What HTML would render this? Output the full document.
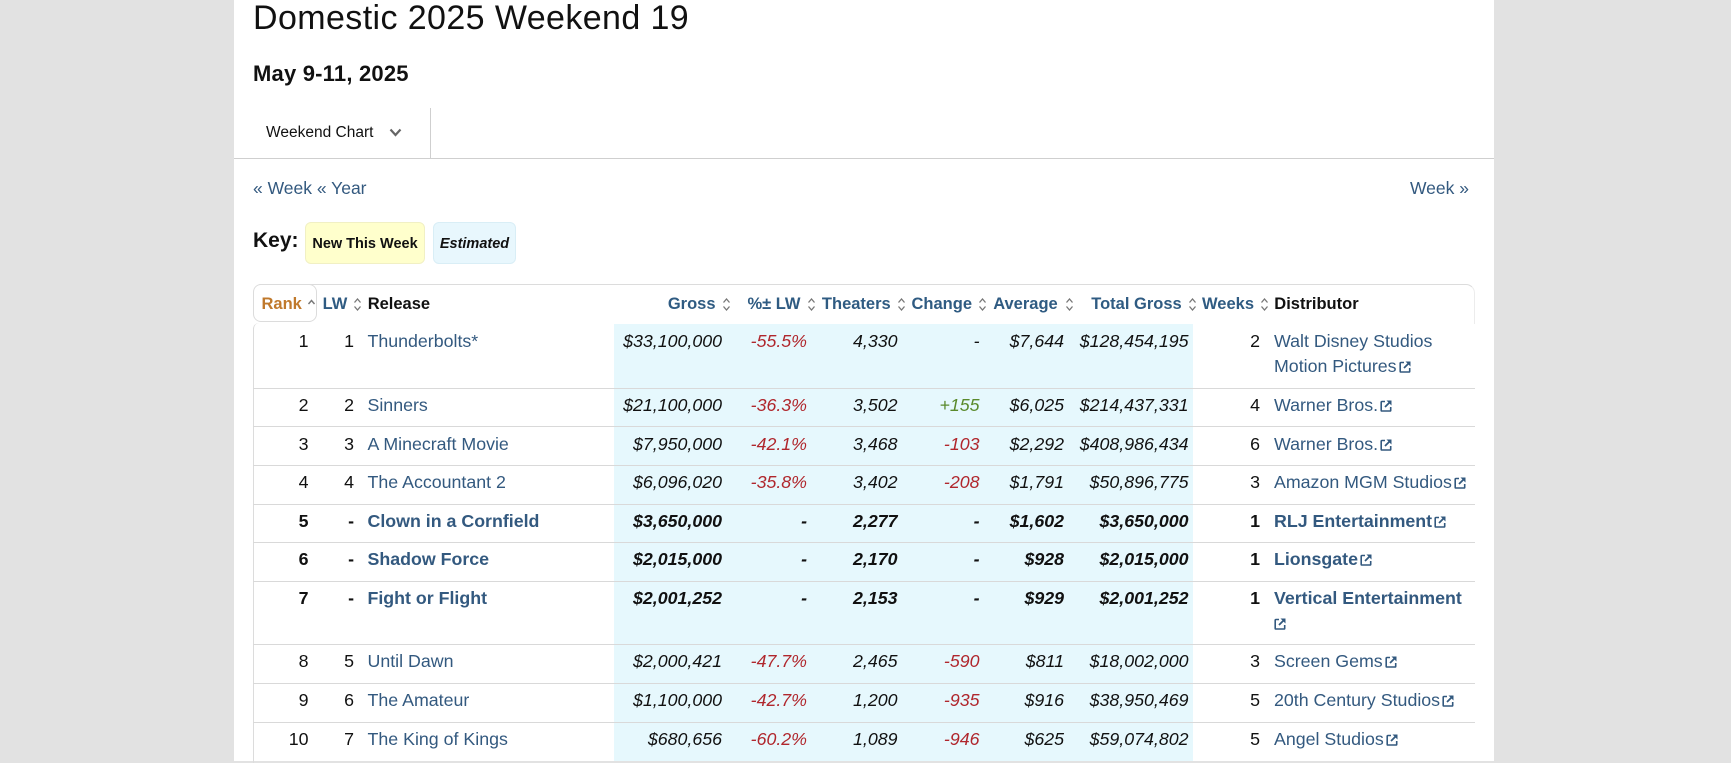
<!DOCTYPE html>
<html><head><meta charset="utf-8"><style>
html,body{margin:0;padding:0}
body{width:1731px;height:761px;overflow:hidden;position:relative;background:#e2e2e2;font-family:"Liberation Sans",Arial,sans-serif;color:#111}
.panel{position:absolute;left:234px;top:0;width:1260px;height:761px;background:#fff}
.a{position:absolute;white-space:nowrap}
.link{color:#33597f}
.title{left:253px;top:1px;font-size:34px;line-height:34px;letter-spacing:0.4px;color:#111}
.date{left:253px;top:63px;font-size:22px;line-height:22px;font-weight:bold;letter-spacing:0.2px}
.tab{left:266px;top:125px;font-size:15.5px;line-height:15.5px;color:#111}
.hl{position:absolute;background:#cfcfcf}
.nav{top:180px;font-size:17.5px;line-height:17.5px}
.key{left:253px;top:230px;font-size:21px;line-height:21px;font-weight:bold}
.kbox{position:absolute;top:221.5px;height:42px;border-radius:6px;box-sizing:border-box;font-size:14.5px;font-weight:bold;line-height:42px;text-align:center}
.blue{position:absolute;left:614px;top:324px;width:579px;height:437px;background:#e6f8fd}
.tbtop{position:absolute;left:253px;top:284px;width:1222px;height:40px;box-sizing:border-box;border-top:1px solid #dcdcdc;border-right:1px solid #ececec;border-top-right-radius:9px;border-top-left-radius:9px}
.rankbox{position:absolute;left:253px;top:284px;width:64px;height:38px;box-sizing:border-box;border:1px solid #dcdcdc;border-radius:8px;background:#fff}
.tbleft{position:absolute;left:253px;top:323px;width:10px;height:440px;box-sizing:border-box;border-left:1px solid #dcdcdc;border-top-left-radius:6px}
.rb{position:absolute;left:253px;width:1222px;height:1px;background:#d9d9d9}
.h{position:absolute;top:294px;font-size:16.5px;line-height:20px;font-weight:bold;color:#2f5b82;white-space:nowrap}
.si{position:absolute;top:296.5px}
.row{position:absolute;left:0;width:1731px;height:40px;font-size:17.8px;line-height:25px}
.row span{position:absolute;top:5px;white-space:nowrap}
.rk{right:1422.5px}
.lw{right:1377px}
.rl{left:367.5px;color:#33597f}
.g{right:1009px}
.p{right:924px}
.th{right:833.5px}
.ch{right:751.5px}
.av{right:667px}
.tg{right:542.5px}
.wk{right:471px}
.ds{left:1274px;color:#33597f}
.i{font-style:italic}
.red{color:#b0272d}
.grn{color:#5a8a2c}
.b{font-weight:bold}
.ext{display:inline-block;vertical-align:-1px;margin-left:2px}
</style></head><body>
<div class="panel"></div>

<div class="a title">Domestic 2025 Weekend 19</div>
<div class="a date">May 9-11, 2025</div>

<div class="a tab">Weekend Chart</div>
<svg class="a" style="left:389px;top:128px" width="13" height="9" viewBox="0 0 13 9"><path d="M1.5 1.5 L6.5 7 L11.5 1.5" fill="none" stroke="#666" stroke-width="2.2"/></svg>
<div class="hl" style="left:430px;top:108px;width:1px;height:50px"></div>
<div class="hl" style="left:234px;top:158px;width:1260px;height:1px"></div>

<div class="a nav link" style="left:253px">« Week « Year</div>
<div class="a nav link" style="right:262px">Week »</div>

<div class="a key">Key:</div>
<div class="kbox" style="left:305px;width:120px;background:#ffffcc;border:1px solid #f1f0c4">New This Week</div>
<div class="kbox" style="left:433px;width:83px;background:#e8f7fd;border:1px solid #d9eef6;font-style:italic">Estimated</div>

<div class="blue"></div>
<div class="tbtop"></div>
<div class="tbleft"></div>
<div class="rankbox"></div>

<!-- header -->
<div class="h" style="left:261.5px;color:#c0792c">Rank</div>
<svg class="si" style="left:307px;top:298px" width="9" height="8" viewBox="0 0 9 8"><path d="M1.5 6 L4.5 2.5 L7.5 6" fill="none" stroke="#777" stroke-width="1.4"/></svg>
<div class="h" style="right:1383.7px">LW</div>
<div class="h" style="left:367.7px;color:#111">Release</div>
<div class="h" style="right:1015.5px">Gross</div>
<div class="h" style="right:930.5px">%± LW</div>
<div class="h" style="right:840.3px">Theaters</div>
<div class="h" style="right:759px">Change</div>
<div class="h" style="right:673.3px">Average</div>
<div class="h" style="right:549.3px">Total Gross</div>
<div class="h" style="right:477px">Weeks</div>
<div class="h" style="left:1274.3px;color:#111">Distributor</div>

<svg class="si" style="left:353px" width="9" height="15" viewBox="0 0 9 15"><path d="M1.5 5.5 L4.5 2 L7.5 5.5 M1.5 9.5 L4.5 13 L7.5 9.5" fill="none" stroke="#777" stroke-width="1.3"/></svg>
<svg class="si" style="left:722px" width="9" height="15" viewBox="0 0 9 15"><path d="M1.5 5.5 L4.5 2 L7.5 5.5 M1.5 9.5 L4.5 13 L7.5 9.5" fill="none" stroke="#777" stroke-width="1.3"/></svg>
<svg class="si" style="left:807px" width="9" height="15" viewBox="0 0 9 15"><path d="M1.5 5.5 L4.5 2 L7.5 5.5 M1.5 9.5 L4.5 13 L7.5 9.5" fill="none" stroke="#777" stroke-width="1.3"/></svg>
<svg class="si" style="left:897px" width="9" height="15" viewBox="0 0 9 15"><path d="M1.5 5.5 L4.5 2 L7.5 5.5 M1.5 9.5 L4.5 13 L7.5 9.5" fill="none" stroke="#777" stroke-width="1.3"/></svg>
<svg class="si" style="left:978px" width="9" height="15" viewBox="0 0 9 15"><path d="M1.5 5.5 L4.5 2 L7.5 5.5 M1.5 9.5 L4.5 13 L7.5 9.5" fill="none" stroke="#777" stroke-width="1.3"/></svg>
<svg class="si" style="left:1064.5px" width="9" height="15" viewBox="0 0 9 15"><path d="M1.5 5.5 L4.5 2 L7.5 5.5 M1.5 9.5 L4.5 13 L7.5 9.5" fill="none" stroke="#777" stroke-width="1.3"/></svg>
<svg class="si" style="left:1188px" width="9" height="15" viewBox="0 0 9 15"><path d="M1.5 5.5 L4.5 2 L7.5 5.5 M1.5 9.5 L4.5 13 L7.5 9.5" fill="none" stroke="#777" stroke-width="1.3"/></svg>
<svg class="si" style="left:1260px" width="9" height="15" viewBox="0 0 9 15"><path d="M1.5 5.5 L4.5 2 L7.5 5.5 M1.5 9.5 L4.5 13 L7.5 9.5" fill="none" stroke="#777" stroke-width="1.3"/></svg>

<!-- row borders -->
<div class="rb" style="top:387.5px"></div>
<div class="rb" style="top:426.3px"></div>
<div class="rb" style="top:465px"></div>
<div class="rb" style="top:503.5px"></div>
<div class="rb" style="top:542.3px"></div>
<div class="rb" style="top:581px"></div>
<div class="rb" style="top:644.3px"></div>
<div class="rb" style="top:683.3px"></div>
<div class="rb" style="top:722.3px"></div>

<!-- rows -->
<div class="row" style="top:324px">
<span class="rk">1</span><span class="lw">1</span><span class="rl">Thunderbolts*</span>
<span class="g i">$33,100,000</span><span class="p i red">-55.5%</span><span class="th i">4,330</span><span class="ch i">-</span><span class="av i">$7,644</span><span class="tg i">$128,454,195</span>
<span class="wk">2</span><span class="ds">Walt Disney Studios<br>Motion Pictures<svg class="ext" width="12" height="12" viewBox="0 0 12 12"><path d="M5 1.5H2a.8.8 0 0 0-.8.8v7.9a.8.8 0 0 0 .8.8h7.9a.8.8 0 0 0 .8-.8V7" fill="none" stroke="#33597f" stroke-width="1.6"/><path d="M6.5 0.5H11.5V5.5Z" fill="#33597f"/><path d="M10.5 1.5L5 7" stroke="#33597f" stroke-width="1.8"/></svg></span>
</div>

<div class="row" style="top:387.7px">
<span class="rk">2</span><span class="lw">2</span><span class="rl">Sinners</span>
<span class="g i">$21,100,000</span><span class="p i red">-36.3%</span><span class="th i">3,502</span><span class="ch i grn">+155</span><span class="av i">$6,025</span><span class="tg i">$214,437,331</span>
<span class="wk">4</span><span class="ds">Warner Bros.<svg class="ext" width="12" height="12" viewBox="0 0 12 12"><path d="M5 1.5H2a.8.8 0 0 0-.8.8v7.9a.8.8 0 0 0 .8.8h7.9a.8.8 0 0 0 .8-.8V7" fill="none" stroke="#33597f" stroke-width="1.6"/><path d="M6.5 0.5H11.5V5.5Z" fill="#33597f"/><path d="M10.5 1.5L5 7" stroke="#33597f" stroke-width="1.8"/></svg></span>
</div>

<div class="row" style="top:426.5px">
<span class="rk">3</span><span class="lw">3</span><span class="rl">A Minecraft Movie</span>
<span class="g i">$7,950,000</span><span class="p i red">-42.1%</span><span class="th i">3,468</span><span class="ch i red">-103</span><span class="av i">$2,292</span><span class="tg i">$408,986,434</span>
<span class="wk">6</span><span class="ds">Warner Bros.<svg class="ext" width="12" height="12" viewBox="0 0 12 12"><path d="M5 1.5H2a.8.8 0 0 0-.8.8v7.9a.8.8 0 0 0 .8.8h7.9a.8.8 0 0 0 .8-.8V7" fill="none" stroke="#33597f" stroke-width="1.6"/><path d="M6.5 0.5H11.5V5.5Z" fill="#33597f"/><path d="M10.5 1.5L5 7" stroke="#33597f" stroke-width="1.8"/></svg></span>
</div>

<div class="row" style="top:465px">
<span class="rk">4</span><span class="lw">4</span><span class="rl">The Accountant 2</span>
<span class="g i">$6,096,020</span><span class="p i red">-35.8%</span><span class="th i">3,402</span><span class="ch i red">-208</span><span class="av i">$1,791</span><span class="tg i">$50,896,775</span>
<span class="wk">3</span><span class="ds">Amazon MGM Studios<svg class="ext" width="12" height="12" viewBox="0 0 12 12"><path d="M5 1.5H2a.8.8 0 0 0-.8.8v7.9a.8.8 0 0 0 .8.8h7.9a.8.8 0 0 0 .8-.8V7" fill="none" stroke="#33597f" stroke-width="1.6"/><path d="M6.5 0.5H11.5V5.5Z" fill="#33597f"/><path d="M10.5 1.5L5 7" stroke="#33597f" stroke-width="1.8"/></svg></span>
</div>

<div class="row b" style="top:503.5px">
<span class="rk">5</span><span class="lw">-</span><span class="rl">Clown in a Cornfield</span>
<span class="g i">$3,650,000</span><span class="p i">-</span><span class="th i">2,277</span><span class="ch i">-</span><span class="av i">$1,602</span><span class="tg i">$3,650,000</span>
<span class="wk">1</span><span class="ds">RLJ Entertainment<svg class="ext" width="12" height="12" viewBox="0 0 12 12"><path d="M5 1.5H2a.8.8 0 0 0-.8.8v7.9a.8.8 0 0 0 .8.8h7.9a.8.8 0 0 0 .8-.8V7" fill="none" stroke="#33597f" stroke-width="1.6"/><path d="M6.5 0.5H11.5V5.5Z" fill="#33597f"/><path d="M10.5 1.5L5 7" stroke="#33597f" stroke-width="1.8"/></svg></span>
</div>

<div class="row b" style="top:542.3px">
<span class="rk">6</span><span class="lw">-</span><span class="rl">Shadow Force</span>
<span class="g i">$2,015,000</span><span class="p i">-</span><span class="th i">2,170</span><span class="ch i">-</span><span class="av i">$928</span><span class="tg i">$2,015,000</span>
<span class="wk">1</span><span class="ds">Lionsgate<svg class="ext" width="12" height="12" viewBox="0 0 12 12"><path d="M5 1.5H2a.8.8 0 0 0-.8.8v7.9a.8.8 0 0 0 .8.8h7.9a.8.8 0 0 0 .8-.8V7" fill="none" stroke="#33597f" stroke-width="1.6"/><path d="M6.5 0.5H11.5V5.5Z" fill="#33597f"/><path d="M10.5 1.5L5 7" stroke="#33597f" stroke-width="1.8"/></svg></span>
</div>

<div class="row b" style="top:581px">
<span class="rk">7</span><span class="lw">-</span><span class="rl">Fight or Flight</span>
<span class="g i">$2,001,252</span><span class="p i">-</span><span class="th i">2,153</span><span class="ch i">-</span><span class="av i">$929</span><span class="tg i">$2,001,252</span>
<span class="wk">1</span><span class="ds">Vertical Entertainment<br><svg class="ext" style="margin-left:0" width="12" height="12" viewBox="0 0 12 12"><path d="M5 1.5H2a.8.8 0 0 0-.8.8v7.9a.8.8 0 0 0 .8.8h7.9a.8.8 0 0 0 .8-.8V7" fill="none" stroke="#33597f" stroke-width="1.6"/><path d="M6.5 0.5H11.5V5.5Z" fill="#33597f"/><path d="M10.5 1.5L5 7" stroke="#33597f" stroke-width="1.8"/></svg></span>
</div>

<div class="row" style="top:644.3px">
<span class="rk">8</span><span class="lw">5</span><span class="rl">Until Dawn</span>
<span class="g i">$2,000,421</span><span class="p i red">-47.7%</span><span class="th i">2,465</span><span class="ch i red">-590</span><span class="av i">$811</span><span class="tg i">$18,002,000</span>
<span class="wk">3</span><span class="ds">Screen Gems<svg class="ext" width="12" height="12" viewBox="0 0 12 12"><path d="M5 1.5H2a.8.8 0 0 0-.8.8v7.9a.8.8 0 0 0 .8.8h7.9a.8.8 0 0 0 .8-.8V7" fill="none" stroke="#33597f" stroke-width="1.6"/><path d="M6.5 0.5H11.5V5.5Z" fill="#33597f"/><path d="M10.5 1.5L5 7" stroke="#33597f" stroke-width="1.8"/></svg></span>
</div>

<div class="row" style="top:683.3px">
<span class="rk">9</span><span class="lw">6</span><span class="rl">The Amateur</span>
<span class="g i">$1,100,000</span><span class="p i red">-42.7%</span><span class="th i">1,200</span><span class="ch i red">-935</span><span class="av i">$916</span><span class="tg i">$38,950,469</span>
<span class="wk">5</span><span class="ds">20th Century Studios<svg class="ext" width="12" height="12" viewBox="0 0 12 12"><path d="M5 1.5H2a.8.8 0 0 0-.8.8v7.9a.8.8 0 0 0 .8.8h7.9a.8.8 0 0 0 .8-.8V7" fill="none" stroke="#33597f" stroke-width="1.6"/><path d="M6.5 0.5H11.5V5.5Z" fill="#33597f"/><path d="M10.5 1.5L5 7" stroke="#33597f" stroke-width="1.8"/></svg></span>
</div>

<div class="row" style="top:722.3px">
<span class="rk">10</span><span class="lw">7</span><span class="rl">The King of Kings</span>
<span class="g i">$680,656</span><span class="p i red">-60.2%</span><span class="th i">1,089</span><span class="ch i red">-946</span><span class="av i">$625</span><span class="tg i">$59,074,802</span>
<span class="wk">5</span><span class="ds">Angel Studios<svg class="ext" width="12" height="12" viewBox="0 0 12 12"><path d="M5 1.5H2a.8.8 0 0 0-.8.8v7.9a.8.8 0 0 0 .8.8h7.9a.8.8 0 0 0 .8-.8V7" fill="none" stroke="#33597f" stroke-width="1.6"/><path d="M6.5 0.5H11.5V5.5Z" fill="#33597f"/><path d="M10.5 1.5L5 7" stroke="#33597f" stroke-width="1.8"/></svg></span>
</div>

</body></html>
